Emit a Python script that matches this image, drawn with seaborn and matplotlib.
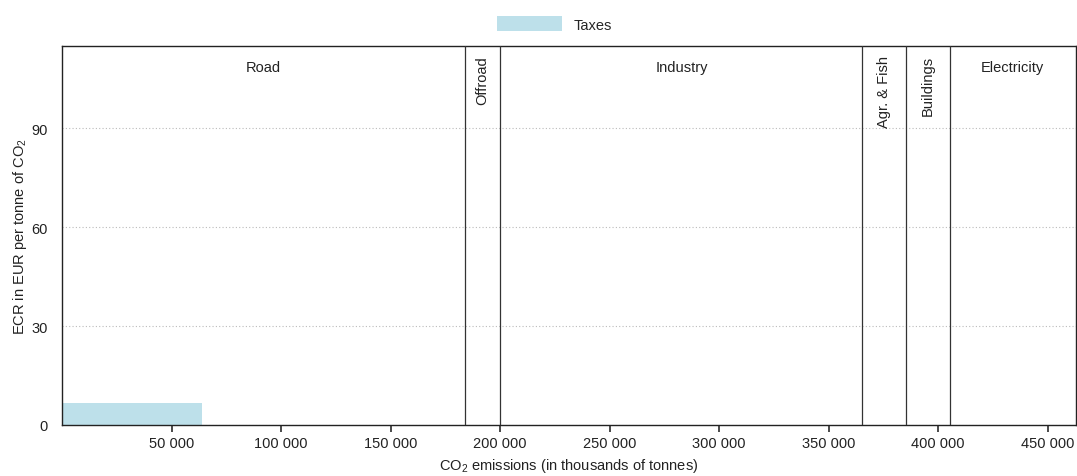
import matplotlib
matplotlib.use("Agg")
import matplotlib.pyplot as plt
import seaborn as sns
import numpy as np
from matplotlib.patches import Patch

# Data
sectors = ["Road", "Offroad", "Industry", "Agr. & Fish", "Buildings", "Electricity"]
sector_edges = [0, 183800, 200200, 365500, 385150, 405250, 463000]
tax_start = [0]
tax_width = [64150]
tax_rate = [6.7]
x_ticks = [50000, 100000, 150000, 200000, 250000, 300000, 350000, 400000, 450000]
y_ticks = [0, 30, 60, 90]

sns.set_theme(style="white")
plt.rcParams['font.family'] = ['Liberation Sans', 'DejaVu Sans']
plt.rcParams['mathtext.fontset'] = 'custom'
plt.rcParams['mathtext.rm'] = 'Liberation Sans'
plt.rcParams['mathtext.it'] = 'Liberation Sans'

fig = plt.figure(figsize=(10.77, 4.77), dpi=100)
ax = fig.add_axes([62/1077, 1-426/477, (1076-62)/1077, (426-47)/477])

bar_color = "#bde0ea"
ax.bar(tax_start, tax_rate, width=tax_width, align="edge", color=bar_color, linewidth=0, zorder=2)

for e in sector_edges[1:-1]:
    ax.axvline(e, color="#333333", lw=0.9, zorder=3)

for i, name in enumerate(sectors):
    lo, hi = sector_edges[i], sector_edges[i+1]
    mid = (lo + hi) / 2
    if hi - lo > 30000:
        ax.text(mid, 110.8, name, ha="center", va="top", fontsize=10.5, color="#222222")
    else:
        ax.text(mid, 112.2, name, ha="center", va="top", rotation=90, fontsize=10.5, color="#222222")

ax.set_xlim(sector_edges[0], sector_edges[-1])
ax.set_ylim(0, 115)
ax.set_xticks(x_ticks)
ax.set_xticklabels([f"{v:,}".replace(",", " ") for v in x_ticks])
ax.set_yticks(y_ticks)
ax.yaxis.grid(True, linestyle=(0, (1, 2)), color="#bbbbbb", lw=0.8)
ax.xaxis.grid(False)
ax.set_axisbelow(True)
for s in ax.spines.values():
    s.set_color("#222222")
    s.set_linewidth(1.0)
ax.tick_params(axis="x", bottom=True, length=5, color="#333333", labelsize=10.5, labelcolor="#222222", pad=3)
ax.tick_params(axis="y", left=False, labelsize=10.5, labelcolor="#222222", pad=4)

ax.set_xlabel(r"CO$_\mathrm{2}$ emissions (in thousands of tonnes)", fontsize=10.5, color="#222222", labelpad=4)
ax.set_ylabel(r"ECR in EUR per tonne of CO$_\mathrm{2}$", fontsize=10.5, color="#222222", labelpad=2)

handles = [Patch(facecolor=bar_color, edgecolor="none", label="Taxes")]
fig.legend(handles=handles, loc="center", bbox_to_anchor=(0.515, 1-25/477), frameon=False,
           fontsize=10.5, handlelength=4.5, handleheight=1.2)

fig.savefig("out.png", dpi=100)
